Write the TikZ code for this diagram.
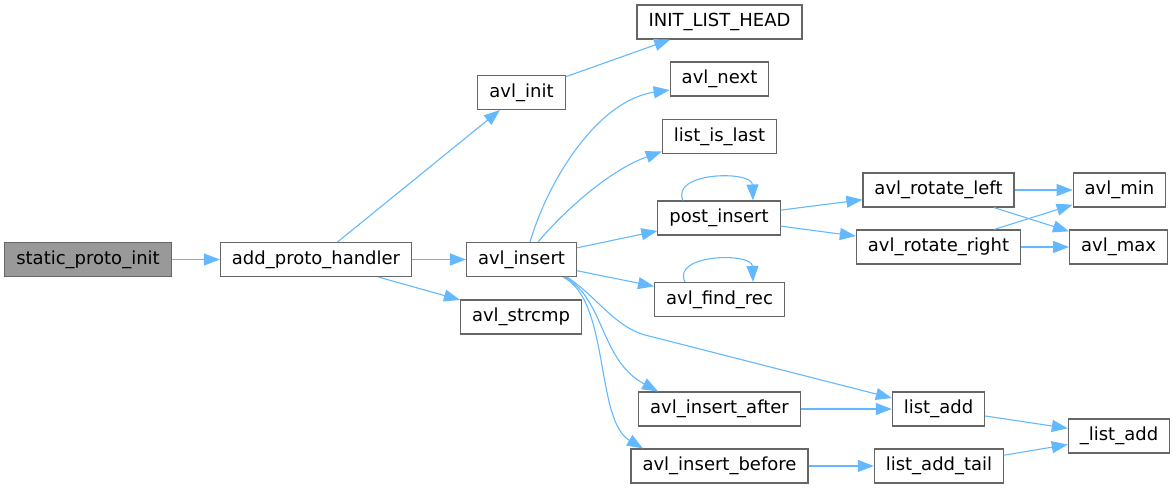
\documentclass[tikz,border=0pt]{standalone}
\usepackage{fontspec}
\setmainfont{DejaVu Sans}
\usetikzlibrary{arrows.meta}
\definecolor{edgeblue}{HTML}{63B8FF}
\definecolor{nodeborder}{HTML}{666666}
\definecolor{rootfill}{HTML}{999999}
\tikzset{
  fn/.style={draw=nodeborder, fill=white, line width=1.1pt, rectangle,
    minimum height=34pt, inner xsep=11.5pt, inner ysep=0pt,
    text height=13.5pt, text depth=4pt,
    font=\fontsize{18}{21}\selectfont},
  rootfn/.style={fn, fill=rootfill},
  call/.style={draw=edgeblue, line width=1.1pt,
    -{Triangle[length=16pt,width=12pt]}},
}
\begin{document}
\begin{tikzpicture}[x=1pt,y=-1pt]
\useasboundingbox (0,0) rectangle (1176,488);
% nodes
\node[rootfn] (spi) at (88,259.5) {static\_proto\_init};
\node[fn] (aph) at (316,259.5) {add\_proto\_handler};
\node[fn] (ainit) at (521.5,92.5) {avl\_init};
\node[fn] (ains) at (521.5,259.5) {avl\_insert};
\node[fn] (astr) at (521,317) {avl\_strcmp};
\node[fn] (ilh) at (719.5,22) {INIT\_LIST\_HEAD};
\node[fn] (anext) at (719.5,79) {avl\_next};
\node[fn] (lil) at (719.5,136.5) {list\_is\_last};
\node[fn] (pins) at (719,218) {post\_insert};
\node[fn] (afr) at (719.5,299.5) {avl\_find\_rec};
\node[fn] (iafter) at (719.5,409) {avl\_insert\_after};
\node[fn] (ibefore) at (719.5,466) {avl\_insert\_before};
\node[fn] (rl) at (938.5,190) {avl\_rotate\_left};
\node[fn] (rr) at (938.5,247) {avl\_rotate\_right};
\node[fn] (ladd) at (938.5,409) {list\_add};
\node[fn] (ltail) at (939,466) {list\_add\_tail};
\node[fn] (amin) at (1119.5,190) {avl\_min};
\node[fn] (amax) at (1118.5,247) {avl\_max};
\node[fn] (lladd) at (1119,436) {\_list\_add};
% edges
\draw[call] (spi) -- (aph);
\draw[call] (aph) -- (ainit);
\draw[call] (aph) -- (ains);
\draw[call] (aph) -- (astr);
\draw[call] (ainit) -- (ilh);
\draw[call] ([xshift=8.5pt]ains.north) .. controls (550,175) and (600,100) .. ([yshift=-11pt]anext.west);
\draw[call] ([xshift=16.5pt]ains.north) .. controls (565,210) and (610,170) .. ([yshift=-15pt]lil.west);
\draw[call] (ains) -- (pins);
\draw[call] (ains) -- (afr);
\draw[call] ([xshift=45.5pt]ains.south) .. controls (595,295) and (615,327) .. (645,335) -- ([yshift=11pt]ladd.west);
\draw[call] ([xshift=43.5pt]ains.south) .. controls (605,300) and (600,360) .. ([xshift=-61.5pt]iafter.north);
\draw[call] ([xshift=41.5pt]ains.south) .. controls (610,300) and (595,420) .. ([xshift=-76.5pt]ibefore.north);
\draw[call] ([xshift=-36pt]pins.north) .. controls (670,172) and (752,170) .. ([xshift=34pt]pins.north);
\draw[call] ([xshift=-34.5pt]afr.north) .. controls (671,254) and (752,252) .. ([xshift=33.5pt]afr.north);
\draw[call] (pins) -- (rl);
\draw[call] (pins) -- (rr);
\draw[call] (rl) -- (amin);
\draw[call] (rl) -- (amax);
\draw[call] (rr) -- (amin);
\draw[call] (rr) -- (amax);
\draw[call] (iafter) -- (ladd);
\draw[call] (ibefore) -- (ltail);
\draw[call] (ladd) -- (lladd);
\draw[call] (ltail) -- (lladd);
\end{tikzpicture}
\end{document}
